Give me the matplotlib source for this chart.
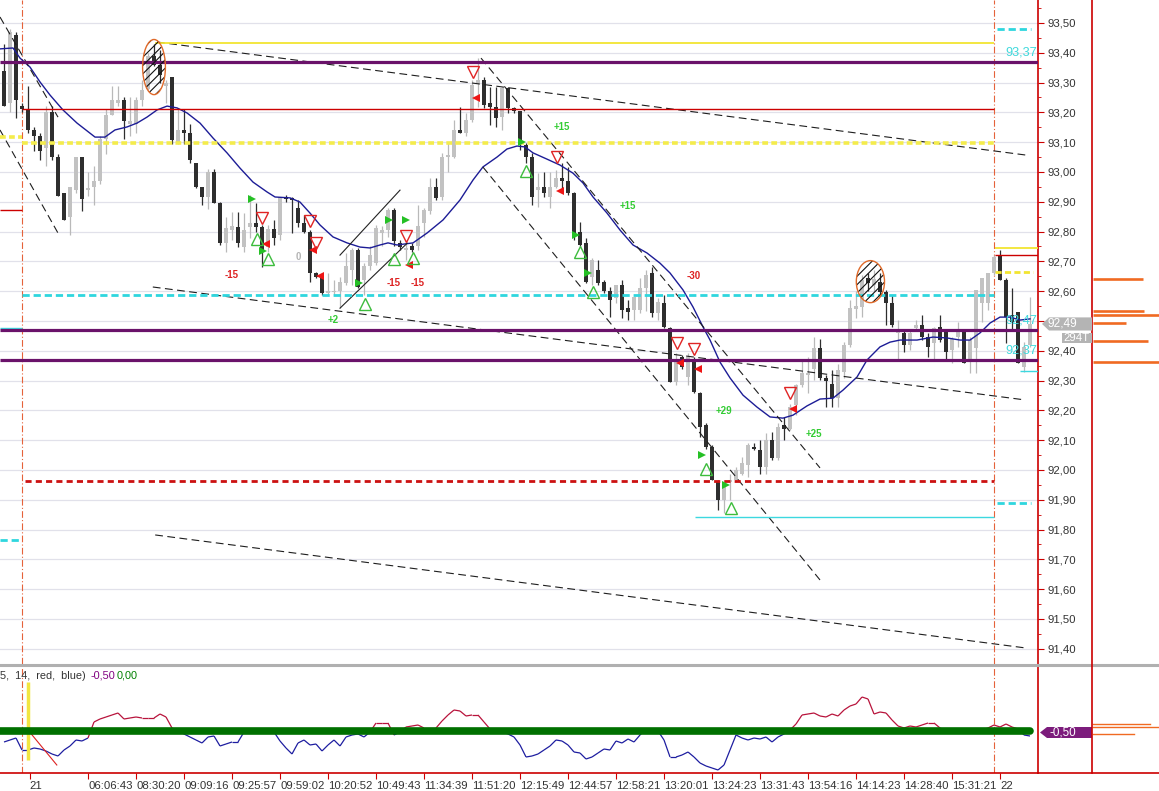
import numpy as np
import matplotlib.pyplot as plt
import matplotlib.transforms as mtransforms
from matplotlib.patches import Ellipse, Polygon
from matplotlib.lines import Line2D
from matplotlib.collections import LineCollection
from matplotlib.ticker import FuncFormatter, MultipleLocator

plt.rcParams['font.family'] = ['Liberation Sans', 'DejaVu Sans']
plt.rcParams['hatch.linewidth'] = 0.8

# ---- candles (one per bar) ----
opens = [93.34, 93.23, 93.46, 93.22, 93.21, 93.14, 93.12, 93.08, 93.20, 93.05,
         92.93, 92.85, 92.94, 93.05, 92.94, 92.95, 92.97, 93.11, 93.19, 93.23,
         93.24, 93.16, 93.16, 93.24, 93.28, 93.39, 93.36, 93.29, 93.32, 93.10,
         93.14, 93.13, 93.03, 92.95, 92.917, 93.00, 92.897, 92.76, 92.805, 92.816,
         92.749, 92.816, 92.83, 92.816, 92.749, 92.807, 92.788, 92.917, 92.911, 92.878,
         92.828, 92.80, 92.66, 92.654, 92.595, 92.597, 92.599, 92.627, 92.671, 92.739,
         92.638, 92.683, 92.694, 92.794, 92.806, 92.873, 92.761, 92.739, 92.75, 92.75,
         92.828, 92.87, 92.951, 92.917, 93.051, 93.051, 93.141, 93.13, 93.175, 93.298,
         93.309, 93.23, 93.219, 93.186, 93.281, 93.214, 93.203, 93.091, 93.051, 92.94,
         92.951, 92.917, 92.951, 92.979, 92.968, 92.928, 92.80, 92.761, 92.649, 92.671,
         92.632, 92.599, 92.576, 92.621, 92.543, 92.537, 92.537, 92.61, 92.66, 92.526,
         92.559, 92.475, 92.296, 92.38, 92.313, 92.374, 92.257, 92.151, 92.078, 91.96,
         91.899, 91.96, 91.966, 91.988, 92.016, 92.078, 92.067, 92.011, 92.10, 92.039,
         92.151, 92.139, 92.218, 92.285, 92.318, 92.34, 92.408, 92.307, 92.29, 92.24,
         92.33, 92.42, 92.54, 92.548, 92.643, 92.62, 92.632, 92.598, 92.559, 92.458,
         92.458, 92.419, 92.475, 92.486, 92.447, 92.425, 92.481, 92.464, 92.402, 92.447,
         92.464, 92.363, 92.408, 92.559, 92.559, 92.66, 92.721, 92.637, 92.52, 92.531,
         92.347, 92.419]
highs = [93.43, 93.48, 93.47, 93.23, 93.29, 93.15, 93.13, 93.22, 93.22, 93.06,
         92.93, 92.95, 93.05, 93.05, 93.00, 93.02, 93.12, 93.21, 93.29, 93.29,
         93.25, 93.25, 93.25, 93.31, 93.40, 93.43, 93.41, 93.31, 93.32, 93.21,
         93.21, 93.16, 93.03, 92.95, 93.01, 93.01, 92.90, 92.85, 92.867, 92.867,
         92.861, 92.923, 92.895, 92.822, 92.822, 92.839, 92.917, 92.923, 92.917, 92.906,
         92.856, 92.805, 92.665, 92.66, 92.66, 92.638, 92.649, 92.727, 92.744, 92.744,
         92.694, 92.75, 92.822, 92.817, 92.878, 92.878, 92.772, 92.767, 92.761, 92.89,
         92.878, 92.98, 92.979, 93.063, 93.096, 93.175, 93.219, 93.197, 93.309, 93.381,
         93.32, 93.286, 93.286, 93.286, 93.286, 93.219, 93.203, 93.096, 93.063, 92.996,
         93.001, 93.001, 93.007, 93.029, 93.018, 92.934, 92.833, 92.777, 92.71, 92.705,
         92.638, 92.615, 92.621, 92.638, 92.571, 92.582, 92.643, 92.671, 92.682, 92.576,
         92.587, 92.48, 92.391, 92.385, 92.391, 92.38, 92.262, 92.156, 92.083, 91.966,
         91.966, 91.988, 92.011, 92.044, 92.089, 92.089, 92.10, 92.123, 92.128, 92.156,
         92.179, 92.223, 92.29, 92.374, 92.38, 92.447, 92.441, 92.318, 92.335, 92.355,
         92.43, 92.57, 92.60, 92.654, 92.66, 92.67, 92.66, 92.604, 92.587, 92.503,
         92.469, 92.469, 92.503, 92.52, 92.458, 92.481, 92.52, 92.469, 92.447, 92.497,
         92.469, 92.447, 92.604, 92.643, 92.66, 92.721, 92.738, 92.643, 92.609, 92.531,
         92.43, 92.581]
lows = [93.22, 93.20, 93.18, 93.20, 93.13, 93.07, 93.04, 93.02, 93.04, 92.92,
        92.84, 92.79, 92.93, 92.87, 92.92, 92.89, 92.96, 93.06, 93.19, 93.22,
        93.11, 93.12, 93.13, 93.22, 93.275, 93.355, 93.30, 93.23, 93.095, 93.095,
        93.095, 93.03, 92.945, 92.89, 92.875, 92.895, 92.755, 92.733, 92.772, 92.749,
        92.733, 92.777, 92.80, 92.682, 92.733, 92.755, 92.772, 92.90, 92.794, 92.816,
        92.794, 92.632, 92.643, 92.587, 92.587, 92.587, 92.543, 92.621, 92.621, 92.61,
        92.587, 92.671, 92.688, 92.75, 92.783, 92.75, 92.739, 92.705, 92.733, 92.739,
        92.783, 92.86, 92.906, 92.906, 93.001, 93.046, 93.13, 93.119, 93.169, 93.219,
        93.214, 93.158, 93.152, 93.141, 93.197, 93.197, 93.074, 93.029, 92.889, 92.884,
        92.917, 92.878, 92.945, 92.928, 92.923, 92.772, 92.75, 92.627, 92.621, 92.621,
        92.593, 92.515, 92.559, 92.509, 92.503, 92.503, 92.526, 92.533, 92.515, 92.503,
        92.476, 92.296, 92.285, 92.34, 92.285, 92.257, 92.111, 92.072, 91.966, 91.865,
        91.854, 91.899, 91.96, 91.983, 91.977, 92.067, 91.988, 91.988, 92.035, 92.033,
        92.10, 92.134, 92.184, 92.28, 92.257, 92.302, 92.302, 92.212, 92.212, 92.212,
        92.307, 92.413, 92.509, 92.514, 92.60, 92.60, 92.59, 92.486, 92.481, 92.374,
        92.397, 92.402, 92.469, 92.436, 92.38, 92.374, 92.43, 92.374, 92.358, 92.413,
        92.358, 92.324, 92.324, 92.497, 92.537, 92.654, 92.637, 92.425, 92.469, 92.358,
        92.33, 92.414]
closes = [93.22, 93.47, 93.24, 93.21, 93.14, 93.12, 93.07, 93.20, 93.05, 92.92,
          92.84, 92.95, 93.05, 92.91, 92.945, 92.97, 93.11, 93.19, 93.24, 93.24,
          93.17, 93.17, 93.24, 93.275, 93.39, 93.36, 93.325, 93.30, 93.107, 93.14,
          93.13, 93.04, 92.95, 92.917, 93.00, 92.897, 92.76, 92.811, 92.818, 92.76,
          92.805, 92.83, 92.816, 92.738, 92.807, 92.777, 92.917, 92.91, 92.906, 92.828,
          92.80, 92.66, 92.649, 92.593, 92.60, 92.60, 92.632, 92.683, 92.739, 92.615,
          92.683, 92.722, 92.811, 92.806, 92.873, 92.767, 92.748, 92.744, 92.739, 92.817,
          92.873, 92.95, 92.912, 93.051, 93.057, 93.141, 93.13, 93.175, 93.292, 93.309,
          93.225, 93.219, 93.18, 93.281, 93.214, 93.203, 93.096, 93.051, 92.917, 92.951,
          92.928, 92.951, 92.979, 92.968, 92.928, 92.783, 92.755, 92.632, 92.705, 92.627,
          92.599, 92.571, 92.621, 92.537, 92.531, 92.582, 92.61, 92.654, 92.526, 92.565,
          92.481, 92.296, 92.369, 92.346, 92.38, 92.262, 92.145, 92.078, 91.966, 91.899,
          91.96, 91.966, 92.0, 92.022, 92.083, 92.072, 92.011, 92.10, 92.039, 92.145,
          92.139, 92.212, 92.285, 92.324, 92.324, 92.41, 92.307, 92.30, 92.24, 92.335,
          92.42, 92.545, 92.55, 92.637, 92.626, 92.64, 92.598, 92.559, 92.486, 92.469,
          92.419, 92.458, 92.486, 92.447, 92.413, 92.475, 92.436, 92.397, 92.441, 92.464,
          92.358, 92.436, 92.604, 92.643, 92.66, 92.716, 92.637, 92.514, 92.497, 92.358,
          92.414, 92.49]

# ---- blue moving average, read as knots (bar, price) ----
ma_bar = [-0.67, 1.5, 2.67, 4.33, 6, 7.67, 9.83, 12.17, 15.17, 16.83,
          18.5, 20.5, 22.17, 23.83, 25.5, 27.17, 28.83, 30.5, 32.67, 34.83,
          37.17, 39.33, 41.5, 43.83, 45.17, 47.67, 49.33, 51, 52.67, 54.83,
          57.17, 59.33, 61, 62.67, 64, 65.5, 68.17, 70.5, 73.17, 76,
          78.17, 79.83, 82.17, 83.83, 85.5, 86.83, 88.17, 90.5, 92.67, 94.83,
          96.5, 98.17, 100.5, 102.67, 104.83, 107.17, 109.33, 111, 113.17, 114.83,
          116.5, 117.67, 119.33, 121, 123.17, 125.5, 127.67, 129.83, 131.5, 133.83,
          136, 138.17, 139.83, 142.17, 143.83, 146, 147.67, 149.33, 152.17, 154.83,
          157.17, 159.33, 161, 162.67, 164.33, 166, 167.67, 169.33, 171]
ma_val = [93.413, 93.416, 93.382, 93.352, 93.302, 93.258, 93.208, 93.164, 93.117, 93.117,
          93.141, 93.151, 93.164, 93.184, 93.208, 93.221, 93.215, 93.198, 93.164, 93.114,
          93.064, 93.013, 92.966, 92.933, 92.916, 92.913, 92.899, 92.862, 92.822, 92.782,
          92.762, 92.748, 92.745, 92.755, 92.762, 92.755, 92.762, 92.795, 92.839, 92.906,
          92.973, 93.017, 93.050, 93.077, 93.087, 93.084, 93.064, 93.043, 93.023, 92.996,
          92.963, 92.916, 92.862, 92.805, 92.755, 92.728, 92.694, 92.661, 92.604, 92.547,
          92.480, 92.436, 92.362, 92.309, 92.251, 92.211, 92.178, 92.174, 92.184, 92.215,
          92.238, 92.241, 92.268, 92.312, 92.369, 92.413, 92.429, 92.436, 92.436, 92.446,
          92.443, 92.436, 92.436, 92.460, 92.493, 92.513, 92.513, 92.503, 92.507]

# ---- oscillator in lower panel (one per bar) ----
osc = [-1.1, -0.9, -0.7, -1.9, -1.9, -1.7, -1.8, -2.0, -2.3, -2.5,
       -1.9, -1.5, -0.9, -1.0, -0.7, 0.9, 1.2, 1.4, 1.6, 1.8,
       1.2, 1.3, 1.4, 1.3, 1.3, 1.3, 1.7, 1.4, 0.3, 0.0,
       -0.3, -0.6, -0.9, -1.2, -0.6, -0.5, -1.5, -1.3, -1.1, -1.1,
       -0.1, 0.1, 0.2, -0.2, 0.1, -0.1, -1.0, -1.7, -2.3, -1.2,
       -0.9, -1.4, -1.3, -2.0, -1.4, -0.9, -1.5, -0.6, -0.4, -0.3,
       -0.6, -0.1, 0.8, 0.8, 0.8, -0.4, -0.1, 0.4, 0.5, 0.6,
       0.3, 0.3, 0.3, 1.0, 1.6, 2.1, 2.0, 1.5, 1.6, 1.6,
       0.9, 0.2, 0.1, -0.1, -0.3, -0.6, -1.4, -2.6, -2.5, -2.3,
       -1.9, -1.5, -0.9, -1.0, -1.4, -2.1, -2.2, -2.8, -2.6, -2.2,
       -1.8, -1.9, -1.0, -1.2, -0.8, -1.1, -0.4, 0.2, 0.1, 0.0,
       -0.9, -2.6, -2.6, -2.4, -2.1, -2.6, -3.2, -3.5, -3.7, -3.9,
       -3.4, -1.9, -0.4, -0.7, -0.9, -0.7, -0.8, -0.6, -1.1, -0.6,
       -0.3, 0.1, 0.7, 1.6, 1.7, 1.8, 1.5, 1.4, 1.7, 1.5,
       2.1, 2.5, 2.7, 3.4, 3.2, 1.7, 1.9, 1.8, 1.1, 0.5,
       0.3, 0.5, 0.4, 0.6, 0.8, 0.8, 0.3, 0.0, 0.0, 0.1,
       0.1, 0.0, 0.1, 0.1, 0.3, 0.6, 0.4, 0.7, 0.4, 0.2,
       -0.4, -0.5]

# ---- x axis labels ----
tick_bars = [4.27, 14, 22, 30, 38, 46, 54, 62, 70, 78, 86, 94, 102, 110, 118,
             126, 134, 142, 150, 158, 166]
tick_labels = ['21', '06:06:43', '08:30:20', '09:09:16', '09:25:57', '09:59:02',
               '10:20:52', '10:49:43', '11:34:39', '11:51:20', '12:15:49', '12:44:57',
               '12:58:21', '13:20:01', '13:24:23', '13:31:43', '13:54:16', '14:14:23',
               '14:28:40', '15:31:21', '22']

# ---- drawn trend lines (bar, price) ----
trend_x0 = [25.5, 24.8, 25.2, 79.5, 79.8, -0.67, -0.67]
trend_y0 = [93.436, 92.614, 91.782, 93.382, 93.017, 93.520, 93.141]
trend_x1 = [170.2, 170.2, 170.2, 136, 136, 9, 9]
trend_y1 = [93.057, 92.235, 91.403, 92.007, 91.631, 93.184, 92.795]
chan_x0 = [56, 56]
chan_y0 = [92.543, 92.721]
chan_x1 = [67.2, 66]
chan_y1 = [92.761, 92.939]

# ---- trade markers ----
buy_x = [41.3, 43.2, 59.2, 64.2, 67, 86.3, 95.3, 97.3, 116.3, 120.3]
buy_y = [92.909, 92.736, 92.627, 92.839, 92.839, 93.100, 92.788, 92.661, 92.050, 91.950]
sell_x = [43.6, 51.5, 52.7, 67.5, 78.7, 92.7, 112.7, 115.7, 131.5]
sell_y = [92.758, 92.738, 92.651, 92.688, 93.248, 92.936, 92.359, 92.339, 92.205]
dn_x = [43, 51, 52, 67, 78.2, 92.2, 112.2, 115, 131]
dn_y = [92.845, 92.835, 92.762, 92.785, 93.335, 93.050, 92.426, 92.406, 92.258]
up_x = [42.2, 44, 60.2, 65, 68.2, 87, 96, 98.2, 117, 121.2]
up_y = [92.775, 92.708, 92.557, 92.708, 92.711, 93.003, 92.731, 92.597, 92.003, 91.872]
pnl_x = [38, 49, 54.8, 65, 69, 93, 104, 115, 120, 135]
pnl_y = [92.654, 92.715, 92.503, 92.627, 92.627, 93.151, 92.886, 92.651, 92.198, 92.121]
pnl_txt = ['-15', '0', '+2', '-15', '-15', '+15', '+15', '-30', '+29', '+25']

# order book bars at far right
book_px = [92.641, 92.534, 92.520, 92.494, 92.433, 92.362]
book_sz = [50, 51, 67, 33, 55, 67]
ind_book_v = [0.7, 0.4, -0.3]
ind_book_sz = [57, 67, 41]

W, H = 1159, 791
fx = lambda px: px / W
fy = lambda py: 1 - py / H

fig = plt.figure(figsize=(W / 100, H / 100), dpi=100)
ax = fig.add_axes([0, fy(664), fx(1038), fy(0) - fy(664)])
ax2 = fig.add_axes([0, fy(773), fx(1038), fy(666) - fy(773)])
XL = (-0.667, 172.33)
ax.set_xlim(*XL)
ax.set_ylim(91.349, 93.577)
ax2.set_xlim(*XL)
ax2.set_ylim(-4.2, 6.5)

# grid + price axis (92,50 sits under the last-price box)
ax.set_yticks(np.arange(91.4, 93.51, 0.1))
ax.yaxis.set_minor_locator(MultipleLocator(0.05))
ax.yaxis.grid(True, color='#e1e1ea', lw=0.9)
ax.set_axisbelow(True)
ax.yaxis.tick_right()
ax.yaxis.set_major_formatter(FuncFormatter(
    lambda v, p: '' if abs(v - 92.5) < 0.01 else f'{v:.2f}'.replace('.', ',')))
ax.tick_params(axis='y', which='both', direction='out', colors='#cc0000',
               labelcolor='#333333', labelsize=8.2, pad=3)
ax.tick_params(axis='y', which='major', length=4)
ax.tick_params(axis='y', which='minor', length=2.5)
ax.set_xticks([])
for s in ['top', 'left', 'bottom']:
    ax.spines[s].set_visible(False)
ax.spines['right'].set_color('#cc0000')
ax.spines['right'].set_linewidth(1.2)

# candles
x = np.arange(len(opens))
o = np.array(opens); c = np.array(closes); h = np.array(highs); l = np.array(lows)
up = c >= o
ax.vlines(x[up], l[up], h[up], color='#b9b9b9', lw=0.9, zorder=3)
ax.vlines(x[~up], l[~up], h[~up], color='#2e2e2e', lw=0.9, zorder=3)
blo = np.minimum(o, c)
bh = np.maximum(np.abs(c - o), 0.005)
ax.bar(x[up], bh[up], bottom=blo[up], width=0.74, color='#c2c2c2', lw=0, zorder=4)
ax.bar(x[~up], bh[~up], bottom=blo[~up], width=0.74, color='#2e2e2e', lw=0, zorder=4)

# moving average
ax.plot(ma_bar, ma_val, color='#1c1c96', lw=1.0, zorder=5)

# trend lines
for a0, b0, a1, b1 in zip(trend_x0, trend_y0, trend_x1, trend_y1):
    ax.plot([a0, a1], [b0, b1], color='#1e1e1e', lw=0.8, dashes=(7, 4), zorder=5)
for a0, b0, a1, b1 in zip(chan_x0, chan_y0, chan_x1, chan_y1):
    ax.plot([a0, a1], [b0, b1], color='#222222', lw=0.8, zorder=5)

# horizontal levels
L0, R1 = XL
ax.hlines(93.433, 25.2, 165, color='#f2e531', lw=1.3, zorder=5)
ax.hlines(93.211, 3, 165, color='#cc0000', lw=1.0, zorder=5)
ax.hlines(92.872, L0, 3, color='#cc0000', lw=1.0, zorder=5)
ax.hlines(92.477, L0, 3, color='#3cd8e0', lw=1.0, zorder=5)
ax.hlines(93.097, 3, 165, color='#f4ec4c', lw=2.6, linestyles=(0, (1.6, 0.9)), zorder=5)
ax.hlines(93.117, L0, 3, color='#f4ec4c', lw=2.6, linestyles=(0, (1.6, 0.9)), zorder=5)
ax.hlines(92.587, 3, 165, color='#2fd6de', lw=2.0, linestyles=(0, (2.6, 1.4)), zorder=5)
ax.hlines(91.765, L0, 3, color='#2fd6de', lw=2.0, linestyles=(0, (2.6, 1.4)), zorder=5)
ax.hlines(91.964, 3.5, 165, color='#cc1111', lw=2.0, linestyles=(0, (2.2, 1.5)), zorder=5)
ax.hlines(91.841, 115.2, 165, color='#3cd8e0', lw=1.0, zorder=5)
ax.hlines([93.37, 92.47, 92.37], L0, R1, color='#6a126a', lw=2.3, zorder=6)
ax.hlines([93.480, 91.890], 165.5, 171.2, color='#2fd6de', lw=2.0,
          linestyles=(0, (2.6, 1.4)), zorder=5)
ax.hlines(92.745, 165.2, R1, color='#f2e531', lw=1.3, zorder=5)
ax.hlines(92.721, 165.2, R1, color='#cc0000', lw=1.0, zorder=5)
ax.hlines(92.664, 165.2, 171.5, color='#f2e531', lw=2.0, linestyles=(0, (2.2, 1.2)), zorder=5)
ax.hlines(92.332, 169.3, R1, color='#3cd8e0', lw=1.0, zorder=5)

# day separators
for ax_ in (ax, ax2):
    for b in (3, 165):
        ax_.axvline(b, color='#e5623a', lw=0.8, dashes=(6, 2, 1, 2), zorder=2)

# hatched ellipses
for cx, cy, ew, eh in [(25, 93.352, 3.8, 0.185), (144.4, 92.632, 4.7, 0.141)]:
    ax.add_patch(Ellipse((cx, cy), ew, eh, fill=False, edgecolor='#111111',
                         hatch='////', lw=0, zorder=6))
    ax.add_patch(Ellipse((cx, cy), ew, eh, fill=False, edgecolor='#e06a2a',
                         lw=1.0, zorder=7))

# trade markers
ax.plot(buy_x, buy_y, '>', color='#25c025', ms=6, mew=0, zorder=8)
ax.plot(sell_x, sell_y, '<', color='#ee1515', ms=6, mew=0, zorder=8)
ax.plot(dn_x, dn_y, 'v', mfc='none', mec='#e02424', ms=8, mew=1.0, zorder=8)
ax.plot(up_x, up_y, '^', mfc='none', mec='#3cbc3c', ms=8, mew=1.0, zorder=8)
for px_, py_, t in zip(pnl_x, pnl_y, pnl_txt):
    col = '#dd2222' if t.startswith('-') else ('#33cc33' if t.startswith('+') else '#b4b4b4')
    ax.text(px_, py_, t, color=col, fontsize=7, fontweight='bold',
            ha='center', va='center', zorder=8)

# right labels inside the chart
tr = mtransforms.blended_transform_factory(ax.transAxes, ax.transData)
for v in (93.37, 92.47, 92.37):
    ax.text(0.999, v + 0.031, f'{v:.2f}'.replace('.', ','), transform=tr, ha='right',
            va='center', color='#3fd9dc', fontsize=9.2, zorder=9)

# order book at the far right
axr = fig.add_axes([fx(1093), fy(664), fx(1159) - fx(1093), fy(0) - fy(664)])
axr.set_xlim(0, 66)
axr.set_ylim(ax.get_ylim())
axr.axis('off')
for v, s in zip(book_px, book_sz):
    axr.plot([0, s], [v, v], color='#f06a22', lw=1.9, solid_capstyle='butt', clip_on=False)

# price boxes on the axis (drawn on an overlay so they cover the tick labels)
ov_ax = fig.add_axes([0, fy(664), 1, fy(0) - fy(664)], zorder=10)
ov_ax.set_xlim(0, W)
ov_ax.set_ylim(ax.get_ylim())
ov_ax.axis('off')
last = closes[-1]
hh = 0.022
ov_ax.add_patch(Polygon([[1042, last], [1049, last + hh], [1092, last + hh],
                         [1092, last - hh], [1049, last - hh]],
                        closed=True, fc='#b4b4b4', ec='none'))
ov_ax.text(1047, last, f'{last:.2f}'.replace('.', ','), ha='left',
           va='center', color='white', fontsize=8.6)
ov_ax.add_patch(Polygon([[1062, 92.46], [1092, 92.46], [1092, 92.426], [1062, 92.426]],
                        closed=True, fc='#b4b4b4', ec='none'))
ov_ax.text(1090, 92.443, '294T', ha='right', va='center', color='white', fontsize=8.2)

# ---- lower panel ----
xs = np.arange(len(osc))
ov = np.array(osc)
segs = np.stack([np.column_stack([xs[:-1], ov[:-1]]), np.column_stack([xs[1:], ov[1:]])], axis=1)
cols = ['#b8143c' if (a + b) / 2 > 0 else '#1e1ea0' for a, b in zip(ov[:-1], ov[1:])]
ax2.add_collection(LineCollection(segs, colors=cols, lw=0.9, zorder=3))
ax2.plot([XL[0], 171], [0, 0], color='#007000', lw=5.5, solid_capstyle='round', zorder=5)
ax2.vlines(4, -2.9, 4.9, color='#f2e640', lw=2.5, zorder=4)
ax2.plot([4, 8.8], [0.1, -3.4], color='#dd2222', lw=0.8, zorder=4)

tr2 = mtransforms.blended_transform_factory(ax2.transAxes, ax2.transData)
ax2.text(0.0, 5.5, '5,  14,  red,  blue)', transform=tr2, ha='left', va='center',
         color='#333333', fontsize=7.8)
ax2.text(91 / 1038, 5.5, '-0,50', transform=tr2, ha='left', va='center',
         color='#800080', fontsize=7.8)
ax2.text(117 / 1038, 5.5, '0,00', transform=tr2, ha='left', va='center',
         color='#008000', fontsize=7.8)

trf2 = mtransforms.blended_transform_factory(fig.transFigure, ax2.transData)
ax2.add_patch(Polygon([[fx(1040), -0.15], [fx(1047), 0.4], [fx(1092), 0.4],
                       [fx(1092), -0.7], [fx(1047), -0.7]], closed=True,
                      transform=trf2, fc='#7c1c7c', ec='none', clip_on=False))
ax2.text(fx(1049), -0.15, '-0,50', transform=trf2, ha='left', va='center',
         color='white', fontsize=8.4, clip_on=False)

axir = fig.add_axes([fx(1093), fy(773), fx(1159) - fx(1093), fy(666) - fy(773)])
axir.set_xlim(0, 66)
axir.set_ylim(ax2.get_ylim())
axir.axis('off')
for v, s in zip(ind_book_v, ind_book_sz):
    axir.plot([0, s], [v, v], color='#f06a22', lw=1.0, clip_on=False)

ax2.set_yticks([])
ax2.set_xticks(tick_bars)
ax2.set_xticklabels(tick_labels)
for lbl in ax2.get_xticklabels():
    lbl.set_ha('left')
ax2.tick_params(axis='x', direction='out', length=4, colors='#cc0000',
                labelcolor='#333333', labelsize=8.2, pad=2)
for s in ['top', 'left']:
    ax2.spines[s].set_visible(False)
for s in ['right', 'bottom']:
    ax2.spines[s].set_color('#cc0000')
    ax2.spines[s].set_linewidth(1.2)

# figure-level frame lines
fig.add_artist(Line2D([0, 1], [fy(665), fy(665)], transform=fig.transFigure,
                      color='#b0b0b0', lw=2.2))
fig.add_artist(Line2D([fx(1092), fx(1092)], [fy(773), 1], transform=fig.transFigure,
                      color='#cc0000', lw=1.2))
fig.add_artist(Line2D([fx(1038), 1], [fy(773), fy(773)], transform=fig.transFigure,
                      color='#cc0000', lw=1.2))

fig.savefig('out.png', dpi=100)
